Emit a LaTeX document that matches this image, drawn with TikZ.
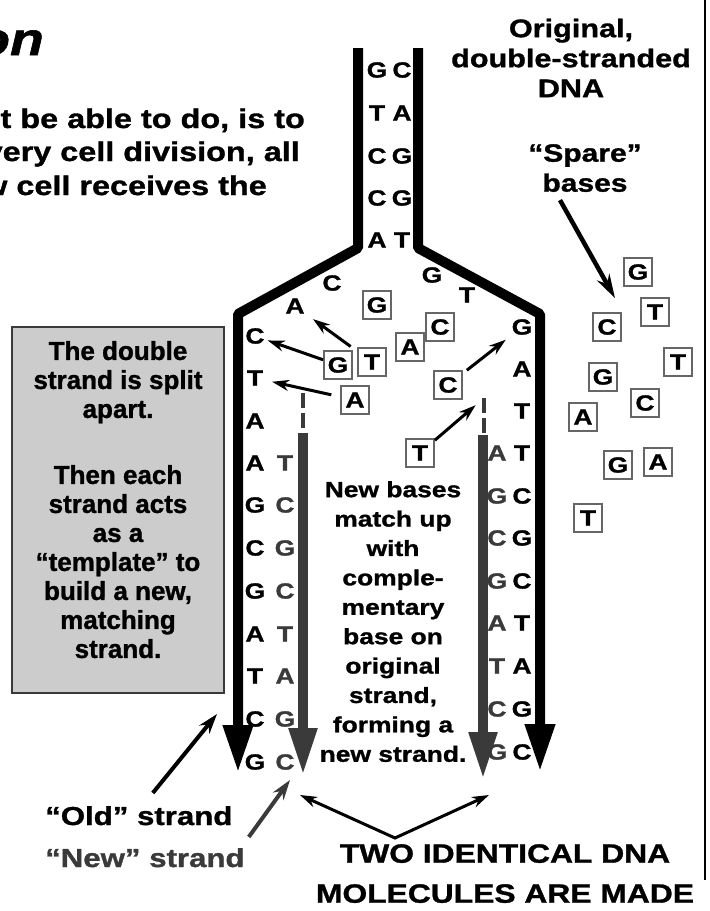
\documentclass[tikz,border=0pt]{standalone}
\usepackage{fontspec}
\setmainfont{Liberation Sans}[FakeStretch=1.2, BoldFeatures={FakeBold=1.2}, BoldItalicFeatures={FakeBold=1.2}]
\newfontfamily\notefont{Liberation Sans}[BoldFeatures={FakeBold=1.2}]
\usetikzlibrary{arrows.meta}
\definecolor{newgray}{HTML}{3A3A3A}
\definecolor{boxgray}{HTML}{666666}
\definecolor{notefill}{HTML}{CCCCCC}

\begin{document}
\begin{tikzpicture}[
x=1pt, y=-1pt,
letter/.style={font=\fontsize{22}{22}\selectfont\bfseries, inner sep=1pt},
newletter/.style={letter, text=newgray},
freebase/.style={letter, draw=boxgray, line width=1.8pt, minimum size=28pt, inner sep=0pt},
lab/.style={align=center, inner sep=0pt, font=\fontsize{25.5}{30}\selectfont\bfseries},
note/.style={draw=newgray, line width=2pt, fill=notefill, minimum width=212pt, minimum height=366pt,
  align=center, inner sep=0pt, font=\notefont\fontsize{26}{29}\selectfont\bfseries},
oldstrand/.style={line width=10pt, line join=bevel, -{Triangle[length=48pt,width=28pt]}},
newstrand/.style={newgray, line width=10.5pt, -{Triangle[length=48pt,width=26pt]}},
newgap/.style={newgray, line width=4.5pt, dash pattern=on 15pt off 5pt},
arrow/.style={line width=3pt, -{Stealth[length=17pt,width=11pt]}}
]
\useasboundingbox (0,0) rectangle (710,911);

% cut-off heading and intro text
\node[anchor=base east, inner sep=0pt, font=\fontsize{46}{46}\selectfont\bfseries\itshape] (title) at (44,55) {on};
\node[anchor=base east, inner sep=0pt, font=\fontsize{27}{27}\selectfont\bfseries] (intro1) at (305,128) {t be able to do, is to};
\node[anchor=base east, inner sep=0pt, font=\fontsize{27}{27}\selectfont\bfseries] (intro2) at (300,161) {very cell division, all};
\node[anchor=base east, inner sep=0pt, font=\fontsize{27}{27}\selectfont\bfseries] (intro3) at (267,195) {w cell receives the};
\draw[line width=2pt] (705,0) -- (705,880);

% strands
\draw[oldstrand] (358,48) -- (358,248) -- (238,314) -- (238,773);
\draw[oldstrand] (418,48) -- (418,248) -- (540,314) -- (540,772);
\draw[newgap] (303,393) -- (303,433);
\draw[newstrand] (303,433) -- (303,776);
\draw[newgap] (484,398) -- (484,435);
\draw[newstrand] (483,435) -- (483,780);
\coordinate (rgap) at (484,398);

% paired stem
\node[letter] (s1l) at (377,70) {G};
\node[letter] (s1r) at (402,70) {C};
\node[letter] (s2l) at (377,113) {T};
\node[letter] (s2r) at (402,113) {A};
\node[letter] (s3l) at (377,156) {C};
\node[letter] (s3r) at (402,156) {G};
\node[letter] (s4l) at (377,198) {C};
\node[letter] (s4r) at (402,198) {G};
\node[letter] (s5l) at (377,240) {A};
\node[letter] (s5r) at (402,240) {T};

% opened fork
\node[letter] (fc) at (332,283) {C};
\node[letter] (fa) at (295,306) {A};
\node[letter] (fg) at (432,275) {G};
\node[letter] (ft) at (467,295) {T};

% left old strand
\node[letter] (lo1) at (255,336) {C};
\node[letter] (lo2) at (255,378) {T};
\node[letter] (lo3) at (255,421) {A};
\node[letter] (lo4) at (255,463) {A};
\node[letter] (lo5) at (255,505) {G};
\node[letter] (lo6) at (255,548) {C};
\node[letter] (lo7) at (255,591) {G};
\node[letter] (lo8) at (255,634) {A};
\node[letter] (lo9) at (255,676) {T};
\node[letter] (lo10) at (255,719) {C};
\node[letter] (lo11) at (255,762) {G};

% left new strand
\node[newletter] (ln1) at (285,463) {T};
\node[newletter] (ln2) at (285,505) {C};
\node[newletter] (ln3) at (285,548) {G};
\node[newletter] (ln4) at (285,591) {C};
\node[newletter] (ln5) at (285,634) {T};
\node[newletter] (ln6) at (285,676) {A};
\node[newletter] (ln7) at (285,719) {G};
\node[newletter] (ln8) at (285,762) {C};

% right old strand
\node[letter] (ro1) at (522,327) {G};
\node[letter] (ro2) at (522,369) {A};
\node[letter] (ro3) at (522,411) {T};
\node[letter] (ro4) at (522,453) {T};
\node[letter] (ro5) at (522,496) {C};
\node[letter] (ro6) at (522,538) {G};
\node[letter] (ro7) at (522,581) {C};
\node[letter] (ro8) at (522,623) {T};
\node[letter] (ro9) at (522,666) {A};
\node[letter] (ro10) at (522,709) {G};
\node[letter] (ro11) at (522,752) {C};

% right new strand
\node[newletter] (rn1) at (497,453) {A};
\node[newletter] (rn2) at (497,496) {G};
\node[newletter] (rn3) at (497,538) {C};
\node[newletter] (rn4) at (497,581) {G};
\node[newletter] (rn5) at (497,623) {A};
\node[newletter] (rn6) at (497,666) {T};
\node[newletter] (rn7) at (497,709) {C};
\node[newletter] (rn8) at (497,752) {G};

% free bases in the fork
\node[freebase] (bG1) at (377,305) {G};
\node[freebase] (bG2) at (338,365) {G};
\node[freebase] (bT1) at (372,362) {T};
\node[freebase] (bA1) at (410,347) {A};
\node[freebase] (bC1) at (440,327) {C};
\node[freebase] (bA2) at (355,400) {A};
\node[freebase] (bC2) at (448,385) {C};
\node[freebase] (bT2) at (420,453) {T};

\draw[arrow, shorten <=8pt, shorten >=9pt] (bT1) -- (fa);
\draw[arrow, shorten >=2pt] (bG2) -- (lo1);
\draw[arrow, shorten <=9pt, shorten >=8pt] (bA2) -- (lo2);
\draw[arrow, shorten <=5pt, shorten >=6pt] (bC2) -- (ro1);
\draw[arrow, shorten >=11pt] (bT2) -- (rgap);

% spare bases
\node[freebase] (pG1) at (638,272) {G};
\node[freebase] (pT1) at (655,312) {T};
\node[freebase] (pC1) at (607,327) {C};
\node[freebase] (pT2) at (678,362) {T};
\node[freebase] (pG2) at (603,377) {G};
\node[freebase] (pC2) at (645,403) {C};
\node[freebase] (pA1) at (583,417) {A};
\node[freebase] (pG3) at (618,465) {G};
\node[freebase] (pA2) at (658,462) {A};
\node[freebase] (pT3) at (588,518) {T};

% labels
\node[lab, anchor=north] (orig) at (571,18.5) {Original,\\double-stranded\\DNA};
\node[lab, anchor=north, font=\fontsize{25}{30}\selectfont\bfseries] (spare) at (585,144) {“Spare”\\bases};
\draw[arrow, line width=4.5pt, -{Stealth[length=24pt,width=14pt]}] ([xshift=-25pt,yshift=-8pt]spare.south) -- ([xshift=8pt,yshift=14pt]pC1.north);

\node[note] (split) at (118,510) {The double\\strand is split\\apart.\\[37pt]Then each\\strand acts\\as a\\“template” to\\build a new,\\matching\\strand.\rule[-21pt]{0pt}{21pt}};

\node[lab, anchor=north, font=\fontsize{22}{29.4}\selectfont\bfseries] (mid) at (393,481) {New bases\\match up\\with\\comple-\\mentary\\base on\\original\\strand,\\forming a\\new strand.};

\node[lab, anchor=base west, font=\fontsize{26}{26}\selectfont\bfseries] (old) at (45,825) {“Old” strand};
\node[lab, anchor=base west, font=\fontsize{26}{26}\selectfont\bfseries, text=newgray] (new) at (45,867) {“New” strand};
\coordinate (oldtip) at (217,714);
\coordinate (newtip) at (290,780);
\draw[arrow, line width=4pt, -{Stealth[length=20pt,width=13pt]}] ([xshift=14pt,yshift=13pt]old.north) -- (oldtip);
\draw[arrow, newgray, line width=4pt, -{Stealth[length=20pt,width=13pt]}] ([xshift=4pt,yshift=11pt]new.north east) -- (newtip);

\node[lab, anchor=north, font=\fontsize{26.5}{40}\selectfont\bfseries] (two) at (505,844) {TWO IDENTICAL DNA\\MOLECULES ARE MADE};
\coordinate (lmol) at (300,795);
\coordinate (rmol) at (489,795);
\coordinate (vee) at ([xshift=-110pt,yshift=6pt]two.north);
\draw[arrow, {Stealth[length=17pt,width=11pt]}-{Stealth[length=17pt,width=11pt]}] (lmol) -- (vee) -- (rmol);
\end{tikzpicture}
\end{document}
